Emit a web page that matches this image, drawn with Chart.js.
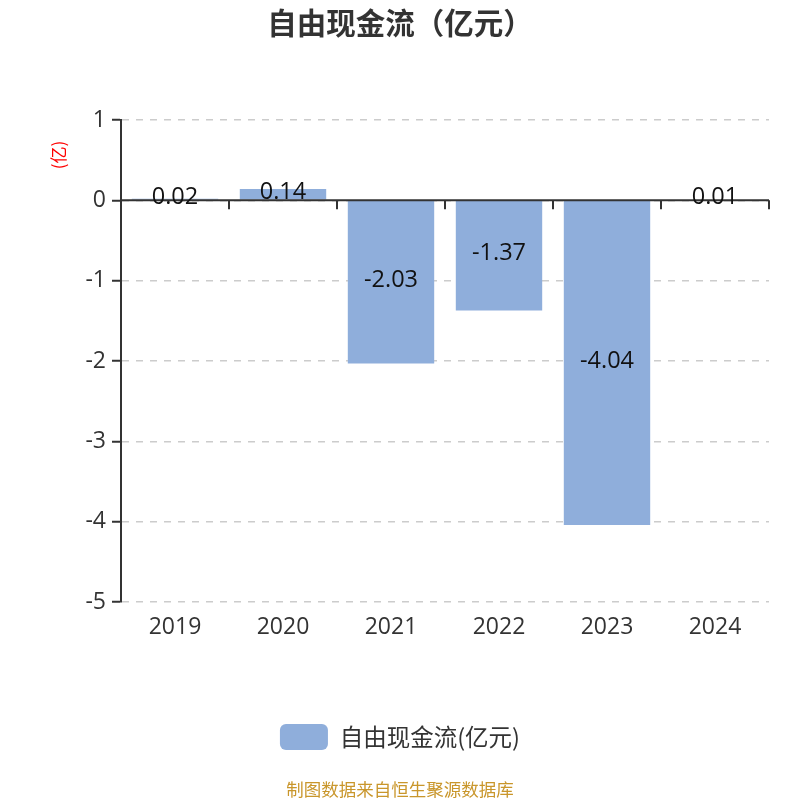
<!DOCTYPE html>
<html>
<head>
<meta charset="utf-8">
<script src="https://cdn.jsdelivr.net/npm/chart.js@4/dist/chart.umd.min.js"></script>
<style>
  html, body { margin: 0; padding: 0; background: #fff; }
  #wrap { width: 800px; height: 800px; }
</style>
</head>
<body>
<div id="wrap"><canvas id="chart"></canvas></div>
<script>
// chart data
const years = ['2019', '2020', '2021', '2022', '2023', '2024'];
const freeCashFlow = [0.02, 0.14, -2.03, -1.37, -4.04, 0.01];
const yTicks = [1, 0, -1, -2, -3, -4, -5];

const seriesName = '自由现金流(亿元)';
const chartTitle = '自由现金流（亿元）';
const unitLabel = '(亿)';
const sourceNote = '制图数据来自恒生聚源数据库';

const FONT = '"Open Sans", "Noto Sans CJK SC", sans-serif';

// title, unit label and footer
const decorPlugin = {
    id: 'decor',
    afterDraw(chart) {
        const ctx = chart.ctx;
        ctx.save();
        ctx.textAlign = 'center';
        ctx.textBaseline = 'middle';
        ctx.fillStyle = '#333';
        ctx.font = 'bold 29.5px "Noto Sans CJK SC", sans-serif';
        ctx.fillText(chartTitle, 400, 23);

        ctx.fillStyle = '#c9962b';
        ctx.font = '17.5px "Noto Sans CJK SC", sans-serif';
        ctx.fillText(sourceNote, 400, 789);

        ctx.translate(59, 155);
        ctx.rotate(-Math.PI / 2);
        ctx.fillStyle = '#ff0000';
        ctx.font = '17px "Noto Sans CJK SC", sans-serif';
        ctx.fillText(unitLabel, 0, 0);
        ctx.restore();
    }
};

// x axis line at zero with ticks between categories, then value labels
const zeroAxisPlugin = {
    id: 'zeroAxis',
    afterDatasetsDraw(chart) {
        const ctx = chart.ctx;
        const x = chart.scales.x;
        const y = chart.scales.y;
        const area = chart.chartArea;
        const y0 = y.getPixelForValue(0);
        const step = (x.getPixelForValue(1) - x.getPixelForValue(0));

        ctx.save();
        ctx.strokeStyle = '#333';
        ctx.lineWidth = 2;
        ctx.beginPath();
        ctx.moveTo(area.left, y0);
        ctx.lineTo(area.right, y0);
        for (let i = 0; i < years.length; i++) {
            const bx = x.getPixelForValue(i) + step / 2;
            ctx.moveTo(bx, y0);
            ctx.lineTo(bx, y0 + 9);
        }
        ctx.stroke();

        ctx.fillStyle = '#111';
        ctx.font = '23.5px ' + FONT;
        ctx.textAlign = 'center';
        ctx.textBaseline = 'middle';
        chart.getDatasetMeta(0).data.forEach((bar, i) => {
            const cy = (bar.y + bar.base) / 2;
            ctx.fillText(freeCashFlow[i].toFixed(2), bar.x, cy - 2);
        });
        ctx.restore();
    }
};

new Chart(document.getElementById('chart'), {
    type: 'bar',
    data: {
        labels: years,
        datasets: [{
            label: seriesName,
            data: freeCashFlow,
            backgroundColor: '#8faedb',
            borderWidth: 0,
            barPercentage: 0.8,
            categoryPercentage: 1
        }]
    },
    options: {
        responsive: true,
        maintainAspectRatio: false,
        animation: false,
        layout: {
            padding: { top: 120, left: 31, right: 31, bottom: 40 }
        },
        plugins: {
            title: { display: false },
            tooltip: { enabled: false },
            legend: {
                position: 'bottom',
                labels: {
                    color: '#333',
                    font: { size: 23.5, family: '"Noto Sans CJK SC", sans-serif' },
                    boxWidth: 48,
                    boxHeight: 26,
                    padding: 12,
                    useBorderRadius: true,
                    borderRadius: 6
                }
            }
        },
        scales: {
            x: {
                grid: { display: false, drawTicks: false },
                border: { display: false },
                ticks: {
                    color: '#333',
                    font: { size: 23, family: FONT },
                    padding: 12,
                    maxRotation: 0
                },
                afterFit(scale) { scale.height = 110; }
            },
            y: {
                min: -5,
                max: 1,
                afterBuildTicks(scale) {
                    scale.ticks = yTicks.map(v => ({ value: v }));
                },
                afterFit(scale) { scale.width = 90; },
                grid: {
                    color: '#cccccc',
                    lineWidth: 1.5,
                    tickColor: '#333',
                    tickLength: 9,
                    tickWidth: 2
                },
                border: {
                    display: true,
                    color: '#333',
                    width: 2,
                    dash: [7, 7]
                },
                ticks: {
                    color: '#333',
                    font: { size: 23, family: FONT },
                    padding: 6
                }
            }
        }
    },
    plugins: [decorPlugin, zeroAxisPlugin]
});
</script>
</body>
</html>
